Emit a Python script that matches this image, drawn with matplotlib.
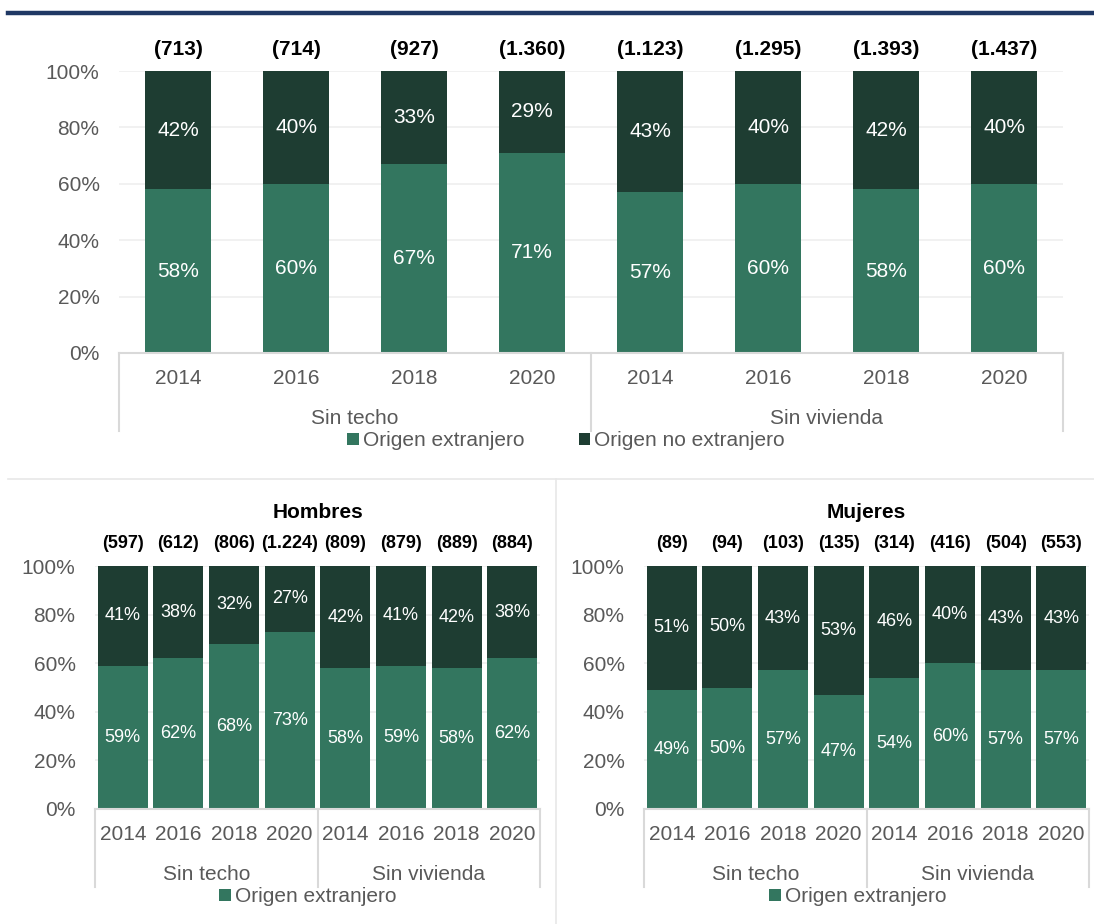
import matplotlib
matplotlib.use('Agg')
import matplotlib.pyplot as plt
from matplotlib.patches import Patch
from matplotlib.lines import Line2D
import matplotlib.transforms as mtransforms

plt.rcParams['font.family'] = ['Liberation Sans', 'DejaVu Sans']

# Datos: porcentaje por origen y total de personas (entre paréntesis)
years = ['2014', '2016', '2018', '2020', '2014', '2016', '2018', '2020']
groups = ['Sin techo', 'Sin vivienda']

total_extranjero = [58, 60, 67, 71, 57, 60, 58, 60]
total_no_extranjero = [42, 40, 33, 29, 43, 40, 42, 40]
total_n = [713, 714, 927, 1360, 1123, 1295, 1393, 1437]

hombres_extranjero = [59, 62, 68, 73, 58, 59, 58, 62]
hombres_no_extranjero = [41, 38, 32, 27, 42, 41, 42, 38]
hombres_n = [597, 612, 806, 1224, 809, 879, 889, 884]

mujeres_extranjero = [49, 50, 57, 47, 54, 60, 57, 57]
mujeres_no_extranjero = [51, 50, 43, 53, 46, 40, 43, 43]
mujeres_n = [89, 94, 103, 135, 314, 416, 504, 553]

GREEN = '#33765F'
DARK = '#1E3D32'
GRAY_TXT = '#595959'
AXIS_GRAY = '#d9d9d9'

W, H = 1094, 924
fig = plt.figure(figsize=(W / 100, H / 100), dpi=100)


def px_axes(left, top, right, bottom):
    return fig.add_axes([left / W, 1 - bottom / H, (right - left) / W, (bottom - top) / H])


def fmt_n(n):
    return '({:,})'.format(n).replace(',', '.')


def offset(ax, dy_px):
    return ax.get_xaxis_transform() + mtransforms.ScaledTranslation(0, dy_px / 100, fig.dpi_scale_trans)


def draw_panel(ax, ext, no_ext, counts, width, pct_size, n_size, title=None, both_legend=True,
               legend_x=None):
    x = list(range(len(ext)))
    ax.bar(x, ext, width=width, color=GREEN, zorder=2)
    ax.bar(x, no_ext, bottom=ext, width=width, color=DARK, zorder=2)

    for i in x:
        ax.text(i, ext[i] / 2, f'{ext[i]}%', ha='center', va='center', color='white', fontsize=pct_size)
        ax.text(i, ext[i] + no_ext[i] / 2, f'{no_ext[i]}%', ha='center', va='center',
                color='white', fontsize=pct_size)
        ax.text(i, 1, fmt_n(counts[i]), transform=offset(ax, 22), ha='center', va='center',
                fontsize=n_size, fontweight='bold', color='black')

    ax.set_xlim(-0.5, len(ext) - 0.5)
    ax.set_ylim(0, 100)
    ax.set_yticks(range(0, 101, 20))
    ax.set_yticklabels([f'{v}%' for v in range(0, 101, 20)])
    ax.tick_params(axis='y', length=0, pad=14, labelsize=15, labelcolor=GRAY_TXT)
    ax.set_xticks([])
    for s in ['left', 'right', 'top']:
        ax.spines[s].set_visible(False)
    ax.spines['bottom'].set_color(AXIS_GRAY)
    ax.spines['bottom'].set_linewidth(1.5)
    ax.yaxis.grid(True, color='#efefef', linewidth=1.2)
    ax.set_axisbelow(True)

    # Eje de categorías en dos niveles
    for i in x:
        ax.text(i, 0, years[i], transform=offset(ax, -26), ha='center', va='center',
                fontsize=15, color=GRAY_TXT)
    ax.text(1.5, 0, groups[0], transform=offset(ax, -65), ha='center', va='center',
            fontsize=15, color=GRAY_TXT)
    ax.text(5.5, 0, groups[1], transform=offset(ax, -65), ha='center', va='center',
            fontsize=15, color=GRAY_TXT)
    sep_tr = ax.get_xaxis_transform()
    y_end = -78 / (ax.get_position().height * H)
    for xs in [-0.5, 3.5, 7.5]:
        ax.add_line(Line2D([xs, xs], [0, y_end], transform=sep_tr, color=AXIS_GRAY,
                           linewidth=1.5, clip_on=False))

    if title:
        ax.text(0.5, 1, title, transform=ax.transAxes + mtransforms.ScaledTranslation(
            0, 54 / 100, fig.dpi_scale_trans), ha='center', va='center', fontsize=15,
            fontweight='bold', color='black')

    handles = [Patch(facecolor=GREEN, label='Origen extranjero')]
    if both_legend:
        handles.append(Patch(facecolor=DARK, label='Origen no extranjero'))
    pos = ax.get_position()
    ly = pos.y0 - 88 / H
    fig.legend(handles=handles, loc='center', bbox_to_anchor=(legend_x / W, ly), ncol=2,
               frameon=False, fontsize=15, handlelength=0.55, handleheight=0.55,
               handletextpad=0.2, columnspacing=2.6, labelcolor=GRAY_TXT, borderpad=0)


# Panel superior: total
ax_top = px_axes(119, 71, 1063, 353)
draw_panel(ax_top, total_extranjero, total_no_extranjero, total_n, width=0.56,
           pct_size=15, n_size=15, both_legend=True, legend_x=566)

# Paneles inferiores: hombres y mujeres
ax_h = px_axes(95, 566, 540, 809)
draw_panel(ax_h, hombres_extranjero, hombres_no_extranjero, hombres_n, width=0.9,
           pct_size=13, n_size=13, title='Hombres', both_legend=False, legend_x=308)

ax_m = px_axes(644, 566, 1089, 809)
draw_panel(ax_m, mujeres_extranjero, mujeres_no_extranjero, mujeres_n, width=0.9,
           pct_size=13, n_size=13, title='Mujeres', both_legend=False, legend_x=858)

# Línea superior y separadores de paneles
fig.add_artist(Line2D([8 / W, 1], [1 - 12.5 / H, 1 - 12.5 / H], color='#1F3864', linewidth=3.2))
fig.add_artist(Line2D([8 / W, 1], [1 - 479 / H, 1 - 479 / H], color='#e8e8e8', linewidth=1.2))
fig.add_artist(Line2D([556 / W, 556 / W], [1 - 479 / H, 0], color='#e8e8e8', linewidth=1.2))

fig.savefig('out.png', dpi=100)
plt.close(fig)
